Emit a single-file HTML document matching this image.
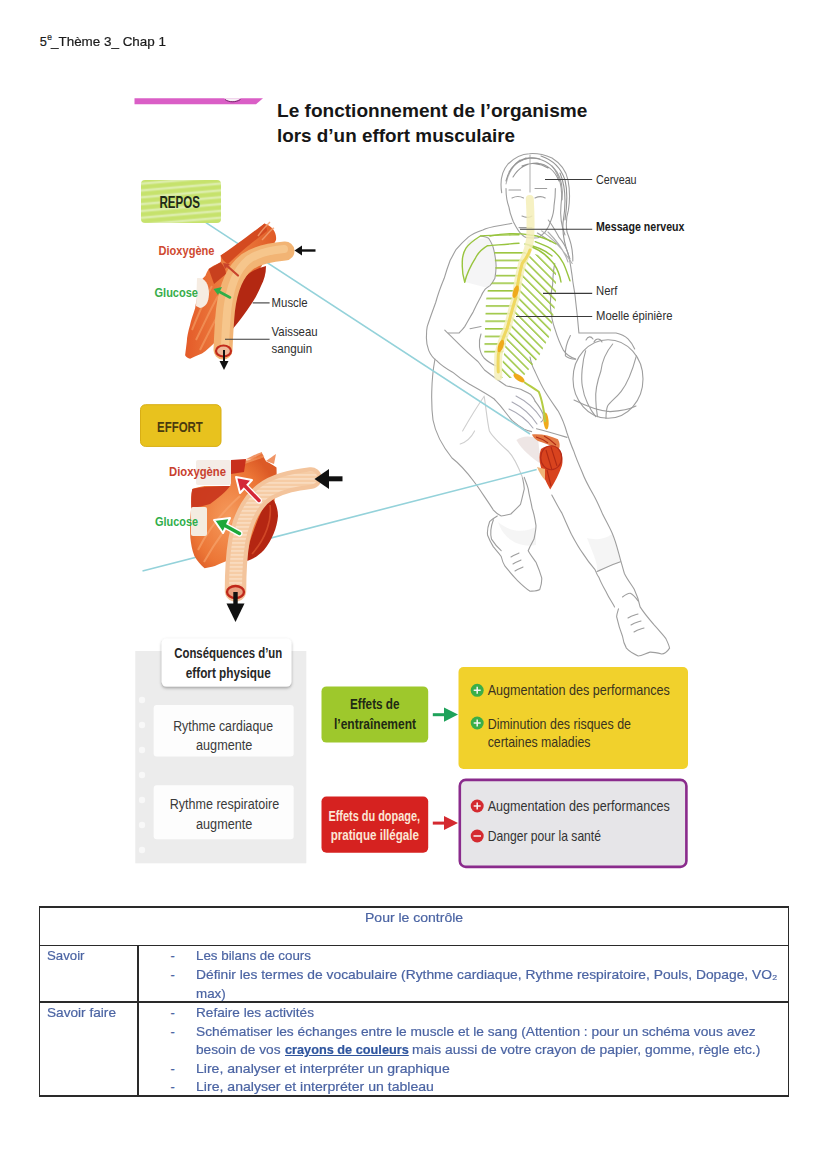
<!DOCTYPE html>
<html lang="fr"><head><meta charset="utf-8"><title>5e Theme 3 Chap 1</title>
<style>
html,body{margin:0;padding:0;background:#fff;}
body{width:828px;height:1171px;position:relative;overflow:hidden;font-family:"Liberation Sans",sans-serif;}
.t{position:absolute;white-space:nowrap;transform-origin:0 0;-webkit-text-stroke:0.2px currentColor;}
svg{position:absolute;left:0;top:0;}
svg text{font-family:"Liberation Sans",sans-serif;}
.bl{position:absolute;background:#2a2a2a;}
</style></head><body>
<div class="t" style="left:39.8px;top:35.76px;font-size:12.8px;line-height:12.8px;color:#1b1b1b;">5</div>
<div class="t" style="left:47.3px;top:33.4px;font-size:8.4px;line-height:8.4px;color:#1b1b1b;">e</div>
<div class="t" style="left:51.0px;top:35.76px;font-size:12.8px;line-height:12.8px;color:#1b1b1b;transform:scaleX(1.0494);">_Thème 3_ Chap 1</div>
<svg width="828" height="1171" viewBox="0 0 828 1171">
<defs>
  <pattern id="stripeG" width="10" height="6.8" patternUnits="userSpaceOnUse" patternTransform="rotate(-5)">
    <rect width="10" height="6.8" fill="#c6e26c"/>
    <rect y="3.6" width="10" height="2.6" fill="#dcedaa"/>
  </pattern>
  <pattern id="tubeStripe" width="6" height="4" patternUnits="userSpaceOnUse">
    <rect width="6" height="4" fill="#f6cda6"/>
    <rect y="2.4" width="6" height="1.1" fill="#fde8d4"/>
  </pattern>
  <linearGradient id="mgR" x1="0" y1="0" x2="1" y2="0">
    <stop offset="0" stop-color="#e45a28"/><stop offset="0.5" stop-color="#ee8444"/><stop offset="1" stop-color="#e05a26"/>
  </linearGradient>
  <radialGradient id="mgE" cx="0.45" cy="0.55" r="0.6">
    <stop offset="0" stop-color="#f59a5c"/><stop offset="0.7" stop-color="#ec7636"/><stop offset="1" stop-color="#dc5a26"/>
  </radialGradient>
  <filter id="blur1" x="-10%" y="-10%" width="120%" height="120%"><feGaussianBlur stdDeviation="0.6"/></filter>
  <filter id="blur2" x="-20%" y="-20%" width="140%" height="140%"><feGaussianBlur stdDeviation="1.2"/></filter>
  <filter id="shadow" x="-20%" y="-20%" width="140%" height="140%"><feDropShadow dx="0" dy="1.5" stdDeviation="1.5" flood-color="#000" flood-opacity="0.35"/></filter>
</defs>

<!-- pink bar -->
<path d="M134.5,98.2 L263,98.2 L256,104.3 L134.5,104.3 Z" fill="#da5ec6"/>
<path d="M224,98.2 C228,102 236,102 241,98.2 Z" fill="#f6eef4"/>
<path d="M225,99.5 C229,102.6 236,102.6 240.5,99.5" fill="none" stroke="#7a3070" stroke-width="1"/>

<!-- ========== PLAYER (grey line art) ========== -->
<g fill="#efefef" opacity="0.6">
  <path d="M468,240 L488,238 L494,250 L496,276 L488,288 L465,282 L462,258 Z" fill="#eeeef0"/>
  <path d="M500,527 C506,540 520,548 536,545 L536,527 C524,533 510,532 498,522 Z"/>
  <path d="M587,538 C592,552 598,562 597,571.6 L620.5,561.7 C618,552 614,540 612,534 C604,540 594,540 587,538 Z"/>
</g>
<g fill="none" stroke="#9e9e9e" stroke-width="1.1" stroke-linecap="round" stroke-linejoin="round">
  <!-- head -->
  <path d="M501.7,192.8 C500,182 501,172 508,164 C515,157 522,154 529.3,153.7 C537,153 545,155 552,158 C560,163 566,170 568,180 C570,190 570,200 568.4,210.2 C566,218 566,226 567,232 C570,240 573,248 572.8,261"/>
  <path d="M509,172 C515,163 522,159 530,158 C540,158 550,162 557,172 C562,180 563,190 562,200"/>
  <path d="M552,166 C560,176 563,190 561,205 C560,215 561,225 565,235"/>
  <path d="M520,160 C512,166 508,174 506,184" stroke="#b5b5b5"/>
  <path d="M530,155 L530,192" stroke="#b5b5b5"/>
  <path d="M506,181 C509,169 516,161 526,158 M513,177 C519,167 527,163 537,163 C547,164 555,171 559,181 M541,156 C553,160 561,168 565,180 C568,192 567,206 565,220 M560,173 C566,187 566,205 563,223 C562,237 566,249 570,259 M518,162 C524,158 532,157 540,159 M522,166 C530,162 540,163 548,168" stroke="#949494"/>
  <path d="M506,188.5 C506,196 507,202 509,207.3 C510,214 512,218 513.3,221.8 C516,227 518,231 520.6,233.4 C523,236 525,237.8 527.8,237.8 C532,238 535,238 538,237.8 C541,236 543,234 545.2,232 C548,228 550,224 551,220.4 C553,215 554,210 554,205.9 C555,200 555.4,194 555.4,188.5"/>
  <path d="M509,190 L520.6,190 M535,188.5 L546.7,188.5 M512,198 C516,196 520,196 523.5,198 M535,198 C539,196 542,196 545.2,198 M522,216 C526,218 529,218 532,216 M519,227.6 L532,227.6"/>
  <!-- left shoulder / arm -->
  <path d="M511.9,223.3 C500,226 490,226 482.8,230 C477,232 472,234 468.3,237.2 C464,241 460,245 456.2,249.3 C454,253 452,257 450.2,260.2 C448,266 446,272 444.2,278.3 C441,286 438,294 435.7,302.5 C433,310 430,318 427.2,326.6 C426.5,330 426.5,332 426.5,335.2 C426,342 427,346 428.7,350.4 C431,356 434,359 437.4,361.3 C442,366 447,369 452.6,372.2 C458,377 464,381 470,384.5 C478,389 487,394 494.2,399 C497,402 500,405 502.6,408.6 C506,413 509,417 512.3,420.7 C516,424 520,427 524.3,429.2 C527,430.5 529,431 531.6,431.6"/>
  <path d="M480.4,236 C485,236.5 487,237 488.8,238.5 C491,242 493,246 493.7,249.3 C495,255 496,261 496.1,266.2 C496,271 495.5,275 494.9,278.3 C493,282 491.5,284 490,285.6 C488,287 486.5,288 485.2,289.2 C483,292 481.5,295 480.4,297.6 C478,302 475.5,307 473.1,312.1 C470,317 467.5,322 464.7,326.6 C463,329 461,331 459.1,333 C455,333 451,333 448.3,333"/>
  
  
  <path d="M444.8,330.2 C455,340 466,352 477.6,361.2 C480,364 482,367 484.5,370 C491,375 499,381 506.2,385.7 C511,387 516,388 520.7,389.3 C524,391 527,392 530.4,394.2 C532,396 534,398 535.2,401.4"/>
  
  <path d="M481,334 C478,342 479,352 484,358 C488,362 492,364 496,366"/>
  <path d="M470,328.7 L481,326.5"/>
  <!-- right arm / torso -->
  <path d="M537.4,233 C542,236 546,238 550.4,241.7"/>
  <path d="M548.3,220 C553,226 556,232 559.1,237.4 C563,242 566,247 567.8,252.6 C570,260 571,268 572.2,276.5 C573,285 575,292 575.5,300 C577,312 578,322 578.9,333 C590,333 605,333 616,333 C621,334 625,336 628,338.9 C631,342 633,345 634.7,349"/>
  <path d="M554.8,263.5 C553,271 553,278 552.6,285.2 C551,293 550,300 550.4,307 C551,314 552,321 554.8,328.7 C557,336 560,344 563.5,350.4 C566,354 569,357 575.7,359.1"/>
  <path d="M541.7,230.9 C552,238 562,248 572.2,263.5 M548,232 C556,240 564,250 568,262" stroke="#b0b0b0"/>
  <!-- ball + hand -->
  <ellipse cx="608" cy="379" rx="35" ry="39.3"/>
  <path d="M585.7,350.7 C582,362 581,378 582.3,386 C584,398 590,410 595.8,416.7 M612.7,344 C606,352 602,362 600.9,371 C597,382 595,390 595.8,400 C596,408 597,413 597.5,416.7 M636.4,355.8 C632,372 627,384 621.2,391.3 C616,398 610,402 607.6,406 C606,410 606,414 606,418.4 M574,400 C590,408 600,411 610,411.6 C620,411 628,410 636,406"/>
  <path d="M594,342 C596,338 600,338 602,342 M586,340 C588,336 591,336 593,339 M570.4,335.5 C567,342 565,350 565.4,355.8 C568,358 572,359 575.5,359.2"/>
  
  <!-- hip & hand on hip -->
  <path d="M530,357 C531,362 532,366 534.3,370 C538,378 541,385 545.2,391.7 C549,398 554,405 558.3,411.3 C562,418 565,426 567,433 C569,439 571,445 573.5,450.4 C576,458 579,465 582.2,472.2 C585,480 589,487 593,494 C597,501 600,508 602.8,514.6 C606,521 610,528 612.6,534.2 C616,542 618,551 620.5,559.8 C622,565 623,569 624.4,573.5 C627,579 631,584 634.2,589.2 C637,595 639,601 640.1,606.9 C644,613 649,619 653.9,624.6 C658,629 662,634 665.7,638.3 C667,641 669,645 669.6,648.1 C667,652 664,654 661.7,654 C658,653 654,652 650,652.1 C646,653 642,656 638.2,656 C634,654 629,651 626.4,648.1 C624,644 623,640 622.5,636.3 C620,630 618,623 616.6,616.7 C617,613 618,611 618.5,608.9"/>
  <path d="M535.2,401.4 C538,405 541,409 543,414 C544,418 543,421 541,422"/>
  <path d="M516,396 C526,401 535,409 541,418 M512,402 C522,407 531,415 537,424 M509,409 C518,413 527,420 533,428" stroke="#a8a8b4"/>
  <path d="M536.5,428.7 C546,431 556,434 567,437.4"/>
  <path d="M484.2,396.2 C476,408 470,418 462.6,430.9 M474.6,430.9 C471,438 466,442 460.2,444" stroke="#cfcfcf"/>
  <!-- back leg -->
  <path d="M435,359 C431,380 431,405 433,420 C436,436 444,448 452,458 C465,468 471,478 478,487 C484,496 489,503 493.4,510.1 C496,513 499,515 501.2,516 C504,516 507,515 510.8,514 C514,511 517,508 520.5,504.3 C522,499 523,494 524.3,488.9 C524,484 523,480 522.4,477.3"/>
  <path d="M522.4,477.3 C518,466 513,456 508,451 C498,442 492,436 489.3,430.7 C487,420 486,408 484.3,397" stroke="#cdcdcd"/>
  <path d="M497.3,516 C494,518 491,520 489.6,521.7 C488,526 487,531 487.6,535.3 C489,539 491,543 493.4,546.9 C496,550 499,553 501.2,556.5 C502,560 503,563 505,566.2 C509,571 512,575 516.6,579.7 C521,584 525,588 530.1,591.3 C533,591 537,591 539.8,589.4 C541,586 542,582 541.7,577.8 C540,572 538,567 536,562.3 C533,558 530,554 528.2,550.7 C530,546 532,543 534,539.1 C535,534 536,530 536,525.6 C535,519 534,513 532.1,508.2 C531,501 529,495 528.2,488.9 C527,484 525,480 524.3,477.3"/>
  <path d="M493.4,519.8 C491,526 490,533 491.5,539.1 C494,543 497,547 501.2,550.7"/>
  <path d="M511,557 C514,555 517,554 519,553 M513,564 C516,562 519,561 521,560 M515,571 C518,569 521,568 523,567"/>
  <!-- front leg -->
  <path d="M551.8,495 C555,501 558,507 561.6,512.6 C565,520 568,527 571.4,534.2 C575,541 579,548 583.2,553.9 C587,560 591,565 595,569.6 C596,572 597,575 598.9,577.4 C601,583 604,588 606.8,593.2 C609,598 612,602 614.6,606.9"/>
  <path d="M597,571.6 C605,568 613,564 620.5,561.7"/>
  <path d="M622.5,597 C625,595 628,593 630.3,593.2 C634,595 636,598 638.2,601"/>
  <path d="M628,618 C631,616 635,615 638,614 M631,625 C634,623 638,622 641,621 M634,632 C637,630 641,629 644,628"/>
</g>

<!-- ========== NERVES (green) ========== -->
<clipPath id="hL"><path d="M494,250 L526,250 L517,298 L504,350 L500,358 L484,358 L486,300 L488,289 L496,276 Z"/></clipPath>
<clipPath id="hR"><path d="M525,253 L548,256 L556,272 L556,300 L550,335 L538,358 L522,378 L500,378 L508,330 L517,298 Z"/></clipPath>
<pattern id="hz" width="20" height="7.6" patternUnits="userSpaceOnUse" y="252"><rect y="0" width="20" height="1.6" fill="#9cc640"/></pattern>
<pattern id="dg" width="6.2" height="20" patternUnits="userSpaceOnUse" patternTransform="rotate(-45)"><rect width="1.5" height="20" fill="#9cc640"/></pattern>
<rect x="480" y="249" width="50" height="110" fill="url(#hz)" clip-path="url(#hL)"/>
<rect x="495" y="250" width="65" height="130" fill="url(#dg)" clip-path="url(#hR)"/>
<g fill="none" stroke="#98c43e" stroke-width="1.4" stroke-linecap="round">
  <path d="M519,234.8 C505,235 490,235 480.4,236 C474,240 469,244 466,248.1 C463,253 462,258 462.3,263.8 C462,270 463,276 464.7,282"/>
  <path d="M519,243.3 C508,244 497,245 487.6,245.7 C482,249 478,253 475.6,257.8 C471,265 467,273 464.7,282"/>
  <path d="M490,236 C505,233 518,233 530,235 C540,236 548,239 556,244"/>
  <path d="M535.2,241.7 C541,244 546,246 550.4,248.3 C556,252 560,257 563.5,263.5 C566,269 568,275 570,280.9"/>
  <path d="M530,246 C540,250 548,256 554,264 C558,270 560,276 561,282"/>
  <path d="M525,244 C535,246 545,250 552,256"/>
</g>
<!-- spinal cord -->
<g fill="none" stroke-linecap="round">
  <path d="M529.8,199 C530.5,212 531,228 530,240 C528,252 525,258 522.2,263.5 C519,275 517,287 515.7,298.3 C512,309 510,319 507,328.7 C503,338 500,347 498.3,354.8 C498,362 498,370 498.3,376.5" stroke="#f4eeb8" stroke-width="8" opacity="0.85"/>
  <path d="M530,250 C528,256 525,260 522.2,263.5 C519,275 517,287 515.7,298.3 C512,309 510,319 507,328.7 C503,338 500,347 498.3,354.8 C498,362 498,368 498.3,372" stroke="#efd860" stroke-width="3"/>
</g>
<g fill="#efaa1c">
  <ellipse cx="515.7" cy="291.7" rx="2.6" ry="6.5" transform="rotate(18 515.7 291.7)"/>
  <ellipse cx="500.8" cy="346" rx="2.6" ry="6.5" transform="rotate(20 500.8 346)"/>
  <ellipse cx="519" cy="378" rx="6.5" ry="2.8" transform="rotate(35 519 378)"/>
  <ellipse cx="546" cy="421" rx="2.6" ry="8.5" transform="rotate(-5 546 421)"/>
</g>
<path d="M524,382 C530,386 535,389 538.7,391.7 C541,397 542,402 543,407 C544,412 545,417 545.2,422" fill="none" stroke="#b4cc44" stroke-width="2"/>

<!-- ========== KNEE MUSCLE ========== -->
<path d="M516.4,440 C522,436 530,435 538,439 L541,464 C532,458 522,450 516.4,440 Z" fill="#e2d6d4" opacity="0.6"/>
<path d="M531.9,434.5 C540,433.5 550,435.5 558,439.3 C560,443 560,446 559,449 C552,446 545,443 538,441 C535,439 533,437 531.9,434.5 Z" fill="#e47a44"/>
<path d="M541,449 C548,444 556,445 560,450 C563,456 563,462 561.8,466 C559,474 555,482 550.2,489.6 C546,482 542,474 540.6,466 C539,460 539,454 541,449 Z" fill="#d8431e"/>
<path d="M537,467 C539,472 542,477 545,480 L545,469 Z" fill="#f0b478"/>
<path d="M546,450 L552,470 M551,447 L557,466 M547,470 L551,486 M536,437 C540,438 544,440 548,443 M544,436 C548,438 552,441 556,445" stroke="#b02a14" stroke-width="1.1" fill="none"/>
<ellipse cx="551.2" cy="457.7" rx="10.5" ry="12" fill="none" stroke="#b42a18" stroke-width="1.1"/>

<!-- ========== cyan lines ========== -->
<g stroke="#94d2da" stroke-width="1.6" fill="none">
  <path d="M205.9,222.7 L530,434"/>
  <path d="M142.5,571 L536.7,469.6"/>
</g>

<!-- ========== REPOS ========== -->
<rect x="141" y="180" width="80" height="43" rx="4" fill="url(#stripeG)" filter="url(#blur1)"/>

<!-- repos muscle -->
<g>
  <path d="M264.5,223.4 C258,229 254,232 251,235.2 C244,240 240,244 235.8,247 C230,250 225,253 220.6,255.5 C221,258 221,260 220.6,262.3 C215,265 211,267 208.7,269 C207,272 206,274 205.4,275.8 L200.3,281 C198,295 196,302 195.2,308 C193,315 191,320 190.1,324.8 C188,332 187,337 186.8,341.7 C186,348 185.5,352 185.1,355.3 C186,357 188,358.5 190.1,358.7 C194,357 198,355 202,353.6 C207,350 211,346 215.5,341.7 C240,300 262,268 276,240 C277,232 272,226 264.5,223.4 Z" fill="url(#mgR)"/>
  <path d="M220.6,255.5 C232,248 248,236 264.5,223.4 C266,226 267,228 267,231 C254,241 240,252 228,264 C224,262 222,259 220.6,255.5 Z" fill="#d44a20"/>
  <path d="M208.7,269 L220.6,262.3 C224,266 226,270 226,274 L214,284 Z" fill="#c8401e"/>
  <path d="M192,330 C198,316 204,300 212,286 M196,340 C204,324 210,310 218,296 M200,350 C208,334 216,318 224,304" stroke="#f49a60" stroke-width="2" fill="none" opacity="0.7"/>
  <path d="M258,236 C262,230 266,226 270,222 M262,240 C268,234 270,230 274,228" stroke="#f2a070" stroke-width="1.4" fill="none" opacity="0.8"/>
  <path d="M266,266 C266,274 264,280 261,286 C258,293 255,299 251,304.5 C246,312 241,319 236,325 L231,331 C231,322 232,312 234,302 C236,292 240,283 246,276 C252,271 258,268 266,266 Z" fill="#b32812"/>
  <path d="M197,278.3 C204,277 209,283 209,294 C208.7,302 206,307 200,308 L196,306 Z" fill="#f6ece2"/>
  <!-- tube -->
  <path d="M285,251 C272,252 258,254 247,262 C234,272 228,290 225.5,310 C224,325 223.5,338 223,350" fill="none" stroke="#f2b474" stroke-width="19" stroke-linecap="round"/>
  <path d="M284,249 C272,250 259,252 248,260 C236,270 230,288 227.5,308 C226,322 225.5,334 225,346" fill="none" stroke="#f8d29c" stroke-width="8" stroke-linecap="round" opacity="0.6"/>
  <ellipse cx="223.5" cy="351" rx="7.5" ry="5.5" fill="#eeb898" stroke="#c22a1a" stroke-width="2.2"/>
</g>

<!-- ========== EFFORT ========== -->
<rect x="140.5" y="404.7" width="80.5" height="41.7" rx="5" fill="#e8c21e" stroke="#d8ae14" stroke-width="1"/>

<g>
  <path d="M262.1,453.2 C256,457 252,459 247.8,460.4 C242,461 236,461 231.3,461.4 L230.3,486 C222,486 212,486 204.6,486 C199,487 195,488 192.3,489.1 C191,496 191,502 191.3,506.6 C190,517 190,527 190.3,537.4 C191,544 192,550 194.4,555.9 C197,561 201,565 204.6,568.2 C208,568 211,567 214.9,566.1 C219,564 224,562 229.3,560 C236,560 242,559 247.8,558 C254,552 260,545 266.2,537.4 C271,529 274,520 276.5,512.8 C276,508 275.5,504 274.5,500.4 C276,490 277,480 276.5,467.6 C273,465 270,463 266.2,461.4 C264,458 263,455 262.1,453.2 Z" fill="url(#mgE)"/>
  <path d="M192.3,489.1 C200,487 212,486 230,486 C226,492 218,498 210,504 C204,506 198,507 191.3,508 C191,500 191,494 192.3,489.1 Z" fill="#c8341c" opacity="0.9"/>
  <path d="M270,497 C275,500 278,508 278,516 C277,528 272,540 264,550 C258,556 252,560 246,561 C247,552 250,540 254,530 C258,518 264,505 270,497 Z" fill="#b42612"/>
  <path d="M270,505 C272,520 266,538 252,554" stroke="#d8502c" stroke-width="1.6" fill="none" opacity="0.8"/>
  <path d="M198,550 C208,530 222,512 240,496 M204,562 C214,544 226,526 244,508 M214,470 C226,466 240,462 256,458 M236,466 C246,462 254,460 264,456" stroke="#f8a872" stroke-width="2" fill="none" opacity="0.6"/>
  <path d="M231,460 L246,459 L244,472 L231,474 Z" fill="#c8301c"/>
  <path d="M246,459 C252,456 256,454 262,452 L262,458 Z M266,461 C270,458 273,456 276,454 L274,464 Z" fill="#ec7a40" opacity="0.8"/>
  <rect x="196" y="460" width="35" height="25" rx="2" fill="#f4ece6"/>
  <rect x="191" y="507" width="16" height="29" rx="2" fill="#f4ece0"/>
  <!-- tube -->
  <path d="M311,478 C296,480 282,482 268,490 C252,500 243,520 239,540 C236,558 235.5,575 235.5,591" fill="none" stroke="#f3c49c" stroke-width="21.5" stroke-linecap="round"/>
  <path d="M311,478 C296,480 282,482 268,490 C252,500 243,520 239,540 C236,558 235.5,575 235.5,591" fill="none" stroke="url(#tubeStripe)" stroke-width="13" stroke-linecap="round" opacity="0.9"/>
  <ellipse cx="235.5" cy="592" rx="8.5" ry="6" fill="#e8a080" stroke="#c0281a" stroke-width="2.4"/>
</g>

<!-- ========== arrows ========== -->
<g fill="#111" stroke="none">
  <!-- repos right arrow -->
  <rect x="300" y="249.3" width="15.5" height="2.4"/>
  <path d="M294.5,250.5 L302,245.5 L302,255.5 Z"/>
  <!-- repos down arrow -->
  <rect x="223" y="350" width="2" height="13"/>
  <path d="M224,370 L219.5,361 L228.5,361 Z"/>
  <!-- effort right arrow -->
  <rect x="326" y="476.3" width="16.5" height="5"/>
  <path d="M314.5,479 L329,469 L329,489 Z"/>
  <!-- effort down arrow -->
  <rect x="233.3" y="592" width="4.4" height="14"/>
  <path d="M235.5,622 L226.5,603.5 L244.5,603.5 Z"/>
</g>
<!-- small colored arrows -->
<g stroke-linecap="round">
  <path d="M238,275.5 L226,265" stroke="#c9442c" stroke-width="2.2"/>
  <path d="M223,263 L230,264 L225,269 Z" fill="#c9442c"/>
  <path d="M230,297.5 L217,290.5" stroke="#2fae48" stroke-width="2.6"/>
  <path d="M213.5,289 L222,287 L218,295 Z" fill="#2fae48"/>
</g>
<g>
  <path d="M259,500.5 L244,485" stroke="#fff" stroke-width="6" stroke-linecap="round"/>
  <path d="M236,477 L252,480 L240,493 Z" fill="#d42838" stroke="#fff" stroke-width="2" stroke-linejoin="round"/>
  <path d="M259,500.5 L244,485" stroke="#d42838" stroke-width="3.5" stroke-linecap="round"/>
  <path d="M239.5,533.5 L224,525" stroke="#fff" stroke-width="6" stroke-linecap="round"/>
  <path d="M214,520 L230,518 L223,533 Z" fill="#1ea83a" stroke="#fff" stroke-width="2" stroke-linejoin="round"/>
  <path d="M239.5,533.5 L224,525" stroke="#1ea83a" stroke-width="3.5" stroke-linecap="round"/>
</g>

<!-- label lines -->
<g stroke="#3a3a3a" stroke-width="1.1">
  <path d="M252.7,302.9 L269.6,302.9"/>
  <path d="M225,339.2 L269.6,339.2"/>
  <path d="M545,179.5 L592.2,179.5"/>
  <path d="M520,229.2 L592.2,229.2"/>
  <path d="M543,293.4 L592.2,293.4"/>
  <path d="M516,316.5 L592.2,316.5"/>
</g>

<!-- ========== CONSEQUENCES PANEL ========== -->
<rect x="135.3" y="651" width="171" height="212.3" fill="#ececec"/>
<g fill="#f8f8f8">
  <circle cx="142" cy="700" r="3.2"/><circle cx="142" cy="725" r="3.2"/><circle cx="142" cy="750" r="3.2"/>
  <circle cx="142" cy="775" r="3.2"/><circle cx="142" cy="800" r="3.2"/><circle cx="142" cy="825" r="3.2"/><circle cx="142" cy="850" r="3.2"/>
</g>
<rect x="161.7" y="638.4" width="129.7" height="48.2" rx="5" fill="#fff" filter="url(#shadow)"/>
<rect x="153.7" y="705" width="140" height="51.6" rx="3" fill="#fdfdfd"/>
<rect x="153.7" y="785.3" width="140" height="53.9" rx="3" fill="#fdfdfd"/>

<!-- ========== EFFECTS ========== -->
<rect x="321.5" y="686.4" width="106.7" height="56.2" rx="5" fill="#9ec82c"/>
<rect x="321.5" y="796.5" width="106.7" height="56.2" rx="5" fill="#d62220"/>
<rect x="458.5" y="667" width="229.5" height="102" rx="5" fill="#f1d12c"/>
<rect x="459.8" y="779.9" width="226.6" height="87" rx="6" fill="#e6e5e8" stroke="#8a2b8c" stroke-width="2.6"/>
<!-- arrows between -->
<g>
  <rect x="432.8" y="713.2" width="14" height="3" fill="#1ea25a"/>
  <path d="M458,714.6 L444,707.5 L444,721.7 Z" fill="#1ea25a"/>
  <rect x="432.8" y="821.6" width="14" height="3" fill="#d42a30"/>
  <path d="M458,823 L444,816 L444,830 Z" fill="#d42a30"/>
</g>
<!-- bullets -->
<g>
  <circle cx="477.2" cy="690.3" r="6.5" fill="#3aae48"/>
  <circle cx="477.2" cy="723" r="6.5" fill="#3aae48"/>
  <circle cx="477.2" cy="806" r="6.5" fill="#d42a30"/>
  <circle cx="477.2" cy="836" r="6.5" fill="#d42a30"/>
  <path d="M473.7,690.3 H480.7 M477.2,686.8 V693.8 M473.7,723 H480.7 M477.2,719.5 V726.5 M473.7,806 H480.7 M477.2,802.5 V809.5 M473.5,836 H481" stroke="#f4f4f4" stroke-width="1.5"/>
</g>
<text x="277.0" y="116.6" font-size="18.6" fill="#161616" font-weight="700" textLength="310.3" lengthAdjust="spacingAndGlyphs">Le fonctionnement de l’organisme</text>
<text x="277.0" y="142.0" font-size="18.6" fill="#161616" font-weight="700" textLength="238.0" lengthAdjust="spacingAndGlyphs">lors d’un effort musculaire</text>
<text x="159.5" y="208.0" font-size="16.5" fill="#1f2a18" font-weight="700" textLength="40.5" lengthAdjust="spacingAndGlyphs">REPOS</text>
<text x="157.0" y="431.7" font-size="15.5" fill="#4a3b0e" font-weight="700" textLength="45.8" lengthAdjust="spacingAndGlyphs">EFFORT</text>
<text x="158.5" y="254.5" font-size="13" fill="#cf4a30" font-weight="700" textLength="56.0" lengthAdjust="spacingAndGlyphs">Dioxygène</text>
<text x="154.5" y="296.8" font-size="13" fill="#37ad4a" font-weight="700" textLength="43.5" lengthAdjust="spacingAndGlyphs">Glucose</text>
<text x="271.6" y="307.0" font-size="13" fill="#2e2e2e" textLength="36.0" lengthAdjust="spacingAndGlyphs">Muscle</text>
<text x="271.6" y="336.4" font-size="13" fill="#2e2e2e" textLength="46.0" lengthAdjust="spacingAndGlyphs">Vaisseau</text>
<text x="271.6" y="352.8" font-size="13" fill="#2e2e2e" textLength="40.5" lengthAdjust="spacingAndGlyphs">sanguin</text>
<text x="169.0" y="475.5" font-size="13" fill="#c8402e" font-weight="700" textLength="57.0" lengthAdjust="spacingAndGlyphs">Dioxygène</text>
<text x="155.0" y="526.0" font-size="13" fill="#2fae4a" font-weight="700" textLength="43.0" lengthAdjust="spacingAndGlyphs">Glucose</text>
<text x="596.0" y="184.3" font-size="13.4" fill="#2e2e2e" textLength="40.6" lengthAdjust="spacingAndGlyphs">Cerveau</text>
<text x="596.0" y="230.7" font-size="13.4" fill="#1a1a1a" font-weight="700" textLength="88.5" lengthAdjust="spacingAndGlyphs">Message nerveux</text>
<text x="596.0" y="295.3" font-size="13.4" fill="#2e2e2e" textLength="21.3" lengthAdjust="spacingAndGlyphs">Nerf</text>
<text x="596.0" y="320.4" font-size="13.4" fill="#2e2e2e" textLength="76.4" lengthAdjust="spacingAndGlyphs">Moelle épinière</text>
<text x="174.3" y="658.0" font-size="14" fill="#262626" font-weight="700" textLength="107.9" lengthAdjust="spacingAndGlyphs">Conséquences d’un</text>
<text x="185.8" y="677.5" font-size="14" fill="#262626" font-weight="700" textLength="84.9" lengthAdjust="spacingAndGlyphs">effort physique</text>
<text x="173.2" y="731.0" font-size="14" fill="#3a3a3a" textLength="99.8" lengthAdjust="spacingAndGlyphs">Rythme cardiaque</text>
<text x="196.0" y="749.7" font-size="14" fill="#3a3a3a" textLength="56.4" lengthAdjust="spacingAndGlyphs">augmente</text>
<text x="169.7" y="809.4" font-size="14" fill="#3a3a3a" textLength="109.5" lengthAdjust="spacingAndGlyphs">Rythme respiratoire</text>
<text x="196.0" y="828.9" font-size="14" fill="#3a3a3a" textLength="56.4" lengthAdjust="spacingAndGlyphs">augmente</text>
<text x="350.0" y="709.3" font-size="14" fill="#1f2a14" font-weight="700" textLength="49.5" lengthAdjust="spacingAndGlyphs">Effets de</text>
<text x="334.0" y="728.8" font-size="14" fill="#1f2a14" font-weight="700" textLength="82.0" lengthAdjust="spacingAndGlyphs">l’entraînement</text>
<text x="328.4" y="820.6" font-size="14" fill="#fbe6d6" font-weight="700" textLength="91.6" lengthAdjust="spacingAndGlyphs">Effets du dopage,</text>
<text x="330.7" y="840.0" font-size="14" fill="#fbe6d6" font-weight="700" textLength="88.3" lengthAdjust="spacingAndGlyphs">pratique illégale</text>
<text x="487.7" y="694.9" font-size="15" fill="#3a3320" textLength="182.1" lengthAdjust="spacingAndGlyphs">Augmentation des performances</text>
<text x="487.7" y="729.0" font-size="15" fill="#3a3320" textLength="143.3" lengthAdjust="spacingAndGlyphs">Diminution des risques de</text>
<text x="487.7" y="747.1" font-size="15" fill="#3a3320" textLength="102.7" lengthAdjust="spacingAndGlyphs">certaines maladies</text>
<text x="487.7" y="810.5" font-size="15" fill="#333" textLength="182.1" lengthAdjust="spacingAndGlyphs">Augmentation des performances</text>
<text x="487.7" y="840.7" font-size="15" fill="#333" textLength="113.3" lengthAdjust="spacingAndGlyphs">Danger pour la santé</text>
</svg>
<div class="bl" style="left:39.5px;top:906.00px;width:749.0px;height:1.6px;"></div>
<div class="bl" style="left:39.5px;top:944.50px;width:749.0px;height:1.6px;"></div>
<div class="bl" style="left:39.5px;top:1001.00px;width:749.0px;height:1.6px;"></div>
<div class="bl" style="left:39.5px;top:1095.40px;width:749.0px;height:1.6px;"></div>
<div class="bl" style="left:38.70px;top:906.0999999999999px;width:1.6px;height:190.80000000000018px;"></div>
<div class="bl" style="left:787.70px;top:906.0999999999999px;width:1.6px;height:190.80000000000018px;"></div>
<div class="bl" style="left:137.40px;top:945.3px;width:1.6px;height:150.9000000000001px;"></div>
<div class="t" style="left:364.9px;top:911.66px;font-size:12.8px;line-height:12.8px;color:#4b64a3;transform:scaleX(1.0943);">Pour le contrôle</div>
<div class="t" style="left:47.4px;top:949.66px;font-size:12.8px;line-height:12.8px;color:#4b64a3;transform:scaleX(1.0336);">Savoir</div>
<div class="t" style="left:47.4px;top:1006.96px;font-size:12.8px;line-height:12.8px;color:#4b64a3;transform:scaleX(1.0658);">Savoir faire</div>
<div class="t" style="left:170.6px;top:949.66px;font-size:12.8px;line-height:12.8px;color:#4b64a3;">-</div>
<div class="t" style="left:196.0px;top:949.66px;font-size:12.8px;line-height:12.8px;color:#4b64a3;transform:scaleX(1.0427);">Les bilans de cours</div>
<div class="t" style="left:170.6px;top:968.66px;font-size:12.8px;line-height:12.8px;color:#4b64a3;">-</div>
<div class="t" style="left:196.0px;top:968.66px;font-size:12.8px;line-height:12.8px;color:#4b64a3;transform:scaleX(1.0798);">Définir les termes de vocabulaire (Rythme cardiaque, Rythme respiratoire, Pouls, Dopage, VO₂</div>
<div class="t" style="left:196.0px;top:987.66px;font-size:12.8px;line-height:12.8px;color:#4b64a3;transform:scaleX(1.0442);">max)</div>
<div class="t" style="left:170.6px;top:1006.96px;font-size:12.8px;line-height:12.8px;color:#4b64a3;">-</div>
<div class="t" style="left:196.0px;top:1006.96px;font-size:12.8px;line-height:12.8px;color:#4b64a3;transform:scaleX(1.0633);">Refaire les activités</div>
<div class="t" style="left:170.6px;top:1025.56px;font-size:12.8px;line-height:12.8px;color:#4b64a3;">-</div>
<div class="t" style="left:196.0px;top:1025.56px;font-size:12.8px;line-height:12.8px;color:#4b64a3;transform:scaleX(1.0734);">Schématiser les échanges entre le muscle et le sang (Attention : pour un schéma vous avez</div>
<div class="t" style="left:170.6px;top:1062.56px;font-size:12.8px;line-height:12.8px;color:#4b64a3;">-</div>
<div class="t" style="left:196.0px;top:1062.56px;font-size:12.8px;line-height:12.8px;color:#4b64a3;transform:scaleX(1.0975);">Lire, analyser et interpréter un graphique</div>
<div class="t" style="left:170.6px;top:1081.36px;font-size:12.8px;line-height:12.8px;color:#4b64a3;">-</div>
<div class="t" style="left:196.0px;top:1081.36px;font-size:12.8px;line-height:12.8px;color:#4b64a3;transform:scaleX(1.1003);">Lire, analyser et interpréter un tableau</div>
<div class="t" style="left:196.0px;top:1044.26px;font-size:12.8px;line-height:12.8px;color:#4b64a3;transform:scaleX(1.0698);">besoin de vos</div>
<div class="t" style="left:284.6px;top:1044.26px;font-size:12.8px;line-height:12.8px;color:#2f559e;font-weight:700;transform:scaleX(0.9944);text-decoration:underline;">crayons de couleurs</div>
<div class="t" style="left:411.6px;top:1044.26px;font-size:12.8px;line-height:12.8px;color:#4b64a3;transform:scaleX(1.0810);">mais aussi de votre crayon de papier, gomme, règle etc.)</div>
</body></html>
